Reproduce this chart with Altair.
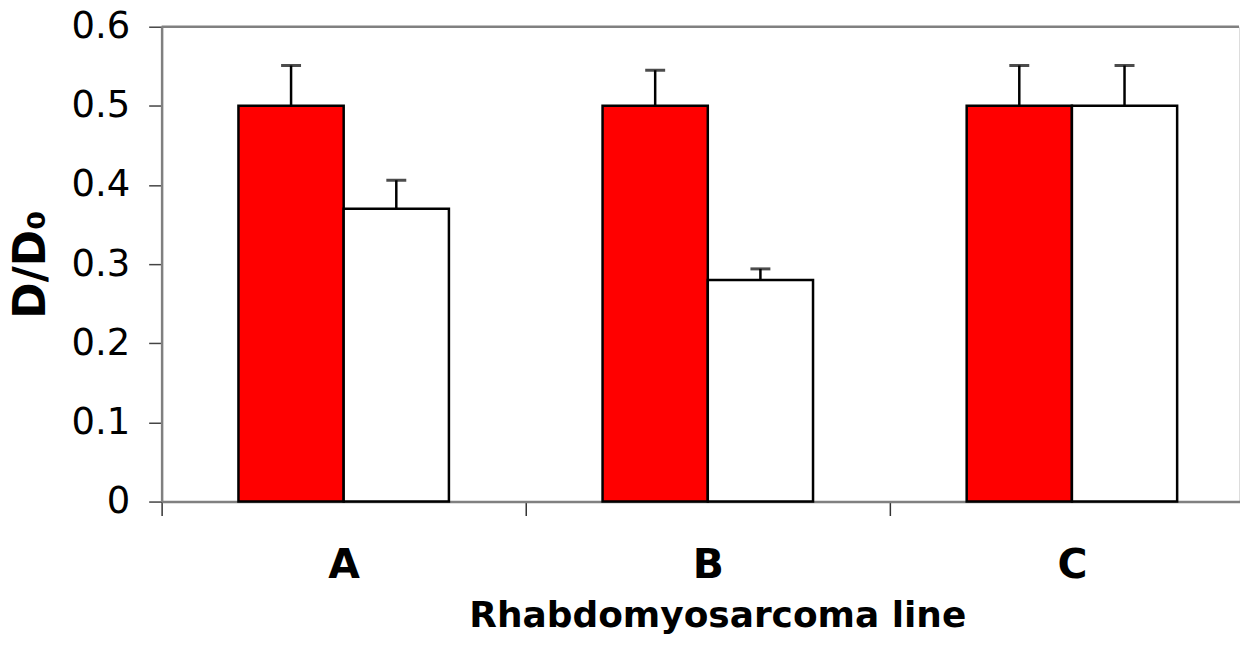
import altair as alt
import pandas as pd

lines = ["A", "B", "C"]
series = ["Series 1", "Series 2"]
series1_values = [0.50, 0.50, 0.50]
series1_upper = [0.551, 0.545, 0.551]
series2_values = [0.37, 0.28, 0.50]
series2_upper = [0.406, 0.294, 0.551]
y_ticks = [0, 0.1, 0.2, 0.3, 0.4, 0.5, 0.6]

rows = []
for i, ln in enumerate(lines):
    rows.append({"line": ln, "series": series[0], "value": series1_values[i], "upper": series1_upper[i]})
    rows.append({"line": ln, "series": series[1], "value": series2_values[i], "upper": series2_upper[i]})
df = pd.DataFrame(rows)

W, H = 1080, 476
BAND_SPAN = 1095  # the third category runs slightly past the visible edge, as in the reference

x_enc = alt.X(
    "line:N",
    sort=lines,
    scale=alt.Scale(paddingInner=0, paddingOuter=0, range=[0, BAND_SPAN]),
    axis=alt.Axis(
        title="Rhabdomyosarcoma line",
        labelAngle=0,
        tickBand="extent",
        tickSize=14,
        tickColor="#333333",
        tickWidth=1.5,
        domainColor="#808080",
        domainWidth=2.5,
        labelFont="DejaVu Sans",
        labelFontWeight="bold",
        labelFontSize=41,
        labelColor="black",
        labelBaseline="alphabetic",
        labelPadding=62,
        titleFont="DejaVu Sans",
        titleFontWeight="bold",
        titleFontSize=36,
        titleColor="black",
        titleBaseline="alphabetic",
        titleX=557,
        titleY=125,
        titleAnchor="middle",
    ),
)
xoff = alt.XOffset("series:N", sort=series, scale=alt.Scale(paddingInner=0, paddingOuter=0.73))

y_scale = alt.Scale(domain=[0, 0.6], nice=False, zero=True)
y_axis = alt.Axis(
    title="D/D₀",
    values=y_ticks,
    format=".1~f",
    grid=False,
    tickSize=13,
    tickColor="#444444",
    tickWidth=1.5,
    domainColor="#808080",
    domainWidth=2.5,
    labelFont="DejaVu Sans",
    labelFontSize=37,
    labelColor="black",
    labelPadding=19,
    titleFont="DejaVu Sans",
    titleFontWeight="bold",
    titleFontSize=44,
    titleColor="black",
    titleAngle=270,
    titleBaseline="middle",
    titleX=-130,
    titleY=H / 2,
    titleAnchor="middle",
)

base = alt.Chart(df)

bars = base.mark_bar(stroke="black", strokeWidth=2.5).encode(
    x=x_enc, xOffset=xoff,
    y=alt.Y("value:Q", scale=y_scale, axis=y_axis),
    fill=alt.Fill("series:N", sort=series,
                  scale=alt.Scale(domain=series, range=["#FF0000", "#FFFFFF"]), legend=None),
)

err = base.mark_rule(color="black", strokeWidth=2.5).encode(
    x=alt.X("line:N", sort=lines), xOffset=alt.XOffset("series:N", sort=series),
    y=alt.Y("value:Q"), y2="upper:Q",
)

caps = base.mark_tick(color="black", thickness=3, size=20, orient="horizontal").encode(
    x=alt.X("line:N", sort=lines), xOffset=alt.XOffset("series:N", sort=series),
    y=alt.Y("upper:Q"),
)

top = alt.Chart(pd.DataFrame({"v": [0.6]})).mark_rule(color="#808080", strokeWidth=2.5).encode(
    y=alt.Y("v:Q")
)

chart = alt.layer(bars, err, caps, top).properties(
    width=W, height=H,
    autosize=alt.AutoSizeParams(type="none"),
    padding={"left": 154, "top": 18, "right": 1, "bottom": 133},
).configure_view(stroke=None).configure(background="white")

chart.save("out.html", embed_options={"renderer": "svg", "actions": False})
